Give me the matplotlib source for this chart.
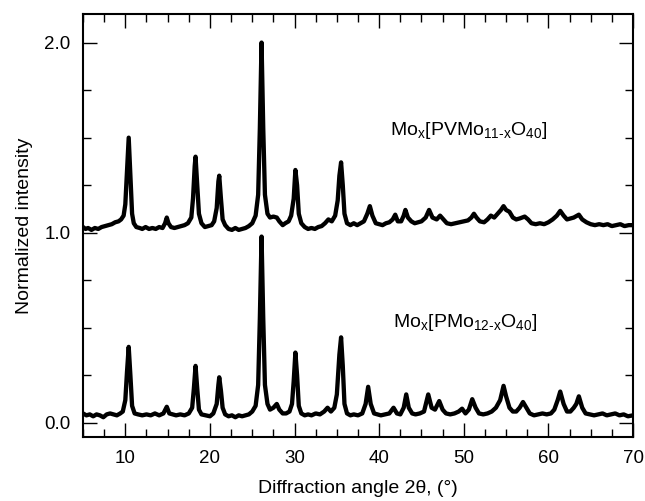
import matplotlib.pyplot as plt
from matplotlib.ticker import MultipleLocator

plt.rcParams['font.family'] = ['Liberation Sans', 'DejaVu Sans']
plt.rcParams['mathtext.fontset'] = 'custom'
plt.rcParams['mathtext.rm'] = 'Liberation Sans'

# PVMo11 sample (upper trace, offset by 1)
top_pts = [
    (5.0, 1.03), (5.3, 1.02), (5.6, 1.025), (6.0, 1.015), (6.4, 1.025), (6.8, 1.02),
    (7.2, 1.03), (7.6, 1.035), (8.0, 1.04), (8.4, 1.045), (8.8, 1.055), (9.2, 1.06),
    (9.5, 1.07), (9.8, 1.09), (10.0, 1.15), (10.2, 1.32), (10.4, 1.50), (10.6, 1.30),
    (10.8, 1.10), (11.0, 1.05), (11.3, 1.03), (11.7, 1.025), (12.0, 1.02), (12.4, 1.03),
    (12.8, 1.02), (13.2, 1.025), (13.6, 1.02), (14.0, 1.03), (14.4, 1.025), (14.7, 1.05),
    (14.9, 1.08), (15.1, 1.05), (15.4, 1.03), (15.8, 1.025), (16.2, 1.03), (16.6, 1.035),
    (17.0, 1.04), (17.4, 1.05), (17.8, 1.08), (18.0, 1.18), (18.2, 1.35), (18.3, 1.40),
    (18.5, 1.25), (18.7, 1.10), (19.0, 1.05), (19.4, 1.03), (19.8, 1.035), (20.2, 1.04),
    (20.5, 1.06), (20.8, 1.13), (21.0, 1.27), (21.1, 1.30), (21.3, 1.18), (21.5, 1.07),
    (21.8, 1.04), (22.2, 1.02), (22.6, 1.015), (23.0, 1.025), (23.4, 1.015), (23.8, 1.02),
    (24.2, 1.025), (24.6, 1.035), (25.0, 1.05), (25.4, 1.09), (25.7, 1.20), (25.9, 1.55),
    (26.1, 2.00), (26.3, 1.55), (26.5, 1.20), (26.8, 1.10), (27.1, 1.08), (27.5, 1.085),
    (27.9, 1.08), (28.2, 1.06), (28.6, 1.04), (28.9, 1.05), (29.3, 1.06), (29.6, 1.09),
    (29.9, 1.18), (30.1, 1.33), (30.3, 1.25), (30.5, 1.10), (30.8, 1.05), (31.2, 1.03),
    (31.6, 1.02), (32.0, 1.025), (32.4, 1.02), (32.8, 1.03), (33.2, 1.035), (33.6, 1.05),
    (34.0, 1.07), (34.4, 1.06), (34.8, 1.09), (35.1, 1.17), (35.3, 1.30), (35.5, 1.37),
    (35.7, 1.25), (35.9, 1.10), (36.2, 1.05), (36.6, 1.04), (37.0, 1.05), (37.4, 1.04),
    (37.8, 1.05), (38.2, 1.06), (38.6, 1.10), (38.9, 1.14), (39.2, 1.09), (39.6, 1.05),
    (40.0, 1.045), (40.4, 1.04), (40.8, 1.05), (41.2, 1.055), (41.6, 1.07), (41.9, 1.095),
    (42.2, 1.06), (42.6, 1.06), (42.9, 1.09), (43.1, 1.12), (43.4, 1.08), (43.8, 1.06),
    (44.2, 1.05), (44.6, 1.055), (45.0, 1.06), (45.5, 1.08), (45.9, 1.12), (46.3, 1.08),
    (46.8, 1.07), (47.2, 1.09), (47.6, 1.07), (48.0, 1.05), (48.5, 1.045), (49.0, 1.05),
    (49.5, 1.055), (50.0, 1.06), (50.5, 1.065), (50.9, 1.08), (51.2, 1.10), (51.5, 1.08),
    (51.9, 1.06), (52.4, 1.055), (52.8, 1.07), (53.2, 1.09), (53.6, 1.08), (54.0, 1.10),
    (54.4, 1.12), (54.7, 1.14), (55.0, 1.12), (55.4, 1.11), (55.8, 1.08), (56.2, 1.07),
    (56.6, 1.075), (57.2, 1.085), (57.6, 1.07), (58.0, 1.05), (58.5, 1.045), (59.0, 1.05),
    (59.5, 1.045), (60.0, 1.055), (60.5, 1.07), (61.0, 1.09), (61.4, 1.115), (61.8, 1.09),
    (62.2, 1.07), (62.6, 1.075), (63.0, 1.08), (63.6, 1.095), (64.0, 1.07), (64.5, 1.055),
    (65.0, 1.045), (65.5, 1.04), (66.0, 1.045), (66.5, 1.04), (67.0, 1.045), (67.5, 1.035),
    (68.0, 1.04), (68.5, 1.045), (69.0, 1.035), (69.5, 1.04), (70.0, 1.04),
]

# PMo12 sample (lower trace)
bot_pts = [
    (5.0, 0.05), (5.4, 0.04), (5.8, 0.045), (6.2, 0.035), (6.6, 0.045), (7.0, 0.04),
    (7.4, 0.03), (7.8, 0.045), (8.2, 0.05), (8.6, 0.045), (9.0, 0.04), (9.4, 0.05),
    (9.7, 0.06), (10.0, 0.12), (10.2, 0.27), (10.4, 0.40), (10.6, 0.25), (10.8, 0.09),
    (11.1, 0.05), (11.5, 0.045), (12.0, 0.04), (12.5, 0.045), (13.0, 0.04), (13.5, 0.05),
    (14.0, 0.04), (14.5, 0.05), (14.9, 0.085), (15.2, 0.05), (15.6, 0.045), (16.0, 0.04),
    (16.5, 0.045), (17.0, 0.04), (17.5, 0.05), (17.9, 0.08), (18.1, 0.18), (18.3, 0.30),
    (18.5, 0.18), (18.7, 0.07), (19.0, 0.045), (19.5, 0.04), (20.0, 0.035), (20.4, 0.05),
    (20.8, 0.10), (21.0, 0.20), (21.1, 0.24), (21.3, 0.17), (21.5, 0.08), (21.8, 0.045),
    (22.2, 0.035), (22.6, 0.04), (23.0, 0.03), (23.4, 0.04), (23.8, 0.035), (24.2, 0.04),
    (24.6, 0.045), (25.0, 0.06), (25.4, 0.09), (25.7, 0.20), (25.9, 0.55), (26.1, 0.98),
    (26.3, 0.55), (26.5, 0.20), (26.8, 0.10), (27.1, 0.07), (27.5, 0.08), (27.9, 0.10),
    (28.2, 0.07), (28.6, 0.05), (29.0, 0.05), (29.4, 0.06), (29.7, 0.10), (29.9, 0.22),
    (30.1, 0.37), (30.3, 0.25), (30.5, 0.09), (30.8, 0.05), (31.2, 0.04), (31.6, 0.045),
    (32.0, 0.04), (32.5, 0.05), (33.0, 0.045), (33.5, 0.06), (33.9, 0.08), (34.3, 0.06),
    (34.7, 0.08), (35.0, 0.15), (35.3, 0.36), (35.5, 0.45), (35.7, 0.30), (35.9, 0.10),
    (36.2, 0.05), (36.6, 0.04), (37.0, 0.045), (37.5, 0.04), (38.0, 0.05), (38.4, 0.10),
    (38.7, 0.19), (39.0, 0.10), (39.4, 0.05), (39.8, 0.045), (40.2, 0.04), (40.7, 0.045),
    (41.2, 0.05), (41.7, 0.08), (42.1, 0.05), (42.5, 0.045), (42.9, 0.08), (43.2, 0.15),
    (43.5, 0.08), (43.9, 0.05), (44.3, 0.045), (44.8, 0.05), (45.3, 0.06), (45.8, 0.15),
    (46.2, 0.08), (46.6, 0.07), (47.1, 0.115), (47.5, 0.07), (47.9, 0.05), (48.4, 0.045),
    (48.9, 0.05), (49.4, 0.06), (49.8, 0.075), (50.2, 0.05), (50.6, 0.07), (51.0, 0.125),
    (51.4, 0.08), (51.8, 0.05), (52.3, 0.045), (52.8, 0.05), (53.3, 0.06), (53.8, 0.08),
    (54.3, 0.12), (54.7, 0.195), (55.0, 0.14), (55.4, 0.08), (55.8, 0.06), (56.2, 0.06),
    (56.6, 0.08), (57.0, 0.11), (57.4, 0.08), (57.8, 0.05), (58.3, 0.04), (58.8, 0.045),
    (59.3, 0.05), (59.8, 0.045), (60.3, 0.05), (60.7, 0.07), (61.1, 0.12), (61.4, 0.165),
    (61.8, 0.10), (62.2, 0.06), (62.6, 0.06), (63.0, 0.08), (63.3, 0.10), (63.6, 0.14),
    (64.0, 0.08), (64.4, 0.05), (64.9, 0.045), (65.4, 0.04), (65.9, 0.045), (66.4, 0.05),
    (66.9, 0.04), (67.4, 0.045), (67.9, 0.05), (68.4, 0.04), (68.9, 0.045), (69.4, 0.035),
    (70.0, 0.04),
]

top_label = r'Mo$_\mathregular{x}$[PVMo$_\mathregular{11\text{-}x}$O$_\mathregular{40}$]'
bot_label = r'Mo$_\mathregular{x}$[PMo$_\mathregular{12\text{-}x}$O$_\mathregular{40}$]'

fig = plt.figure(figsize=(6.45, 5.01), dpi=100)
ax = fig.add_axes([0.1287, 0.1277, 0.8527, 0.8443])

for pts in (top_pts, bot_pts):
    xs, ys = zip(*pts)
    ax.plot(xs, ys, color='black', lw=3.1, solid_joinstyle='round')

ax.text(41.3, 1.54, top_label, fontsize=14, va='center')
ax.text(41.6, 0.53, bot_label, fontsize=14, va='center')

ax.set_xlim(5, 70)
ax.set_ylim(-0.074, 2.15)
ax.xaxis.set_major_locator(MultipleLocator(10))
ax.xaxis.set_minor_locator(MultipleLocator(2.5))
ax.yaxis.set_minor_locator(MultipleLocator(0.25))
ax.set_yticks([0.0, 1.0, 2.0])
ax.set_yticklabels(['0.0', '1.0', '2.0'])
ax.tick_params(which='both', direction='in', top=True, right=True,
               labelsize=13.5, width=1, pad=9)
ax.tick_params(which='major', length=10)
ax.tick_params(which='minor', length=5.5)
for s in ax.spines.values():
    s.set_linewidth(1.5)

ax.set_xlabel('Diffraction angle 2\u03b8, (\u00b0)', fontsize=14, labelpad=10)
ax.set_ylabel('Normalized intensity', fontsize=14, labelpad=8)

fig.savefig('out.png', dpi=100)
